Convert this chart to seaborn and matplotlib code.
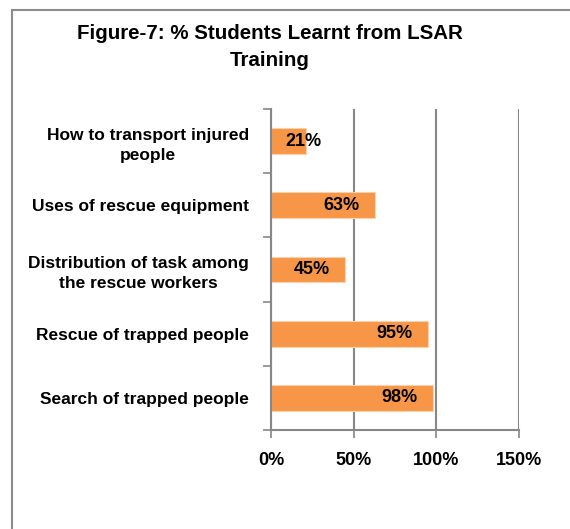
import matplotlib
matplotlib.use("Agg")
import matplotlib.pyplot as plt
from matplotlib.patches import Rectangle
from matplotlib.ticker import FuncFormatter
import seaborn as sns
import pandas as pd

categories = [
    "How to transport injured\npeople",
    "Uses of rescue equipment",
    "Distribution of task among\nthe rescue workers",
    "Rescue of trapped people",
    "Search of trapped people",
]
percent = [21, 63, 45, 95, 98]
x_ticks = [0, 50, 100, 150]
title = "Figure-7: % Students Learnt from LSAR\nTraining"

df = pd.DataFrame({"topic": categories, "pct": percent})

sns.set_theme(style="white")
plt.rcParams["font.family"] = ["Liberation Sans Narrow", "Liberation Sans", "DejaVu Sans"]
plt.rcParams["font.weight"] = "bold"
plt.rcParams["text.color"] = "black"
plt.rcParams["xtick.color"] = "black"
plt.rcParams["ytick.color"] = "black"

fig = plt.figure(figsize=(5.7, 5.29), dpi=100)
fig.patch.set_facecolor("white")

# outer chart border (left/top, runs off the right and bottom)
fig.add_artist(Rectangle((12 / 570, -0.1), 1.2, 1 - 10 / 529 + 0.1,
                         transform=fig.transFigure, fill=False,
                         edgecolor="#8c8c8c", linewidth=1.5))

ax = fig.add_axes([271 / 570, 1 - 430 / 529, (518.7 - 271) / 570, (430 - 109) / 529])
sns.barplot(data=df, x="pct", y="topic", color="#F79646", saturation=1,
            width=0.4, edgecolor="#fbd2b0", linewidth=0.8, ax=ax)

ax.set_xlim(0, 150)
ax.set_ylim(len(categories) - 0.5, -0.5)
ax.set_xticks(x_ticks)
ax.xaxis.set_major_formatter(FuncFormatter(lambda v, p: f"{v:.0f}%"))
ax.set_yticks([i - 0.5 for i in range(len(categories) + 1)], minor=False)
ax.set_yticklabels([])
ax.set_yticks(range(len(categories)), minor=True)
ax.set_yticklabels(categories, minor=True, fontsize=12.5, fontweight="bold",
                   multialignment="center", linespacing=1.45, color="black")
ax.tick_params(axis="y", which="major", length=6, width=1.2, color="#878787", left=True)
ax.tick_params(axis="y", which="minor", length=0, pad=16)
ax.tick_params(axis="x", length=6, width=1.2, color="#878787", bottom=True, pad=10,
               labelsize=13, labelcolor="black")
for lab in ax.get_xticklabels():
    lab.set_fontweight("bold")
ax.set_xlabel("")
ax.set_ylabel("")

ax.grid(axis="x", color="#878787", linewidth=1.5)
ax.set_axisbelow(True)
for side in ["top", "right"]:
    ax.spines[side].set_visible(False)
for side in ["left", "bottom"]:
    ax.spines[side].set_color("#878787")
    ax.spines[side].set_linewidth(1.5)

for i, v in enumerate(percent):
    ax.text(max(v - 20.5, 19.4), i, f"{v}%", ha="center", va="center",
            fontsize=13, fontweight="bold", color="black")

fig.text(270 / 570, 1 - 47 / 529, title, ha="center", va="center",
         fontsize=14.8, fontweight="bold", linespacing=1.55, color="black")

fig.savefig("out.png", dpi=100)
